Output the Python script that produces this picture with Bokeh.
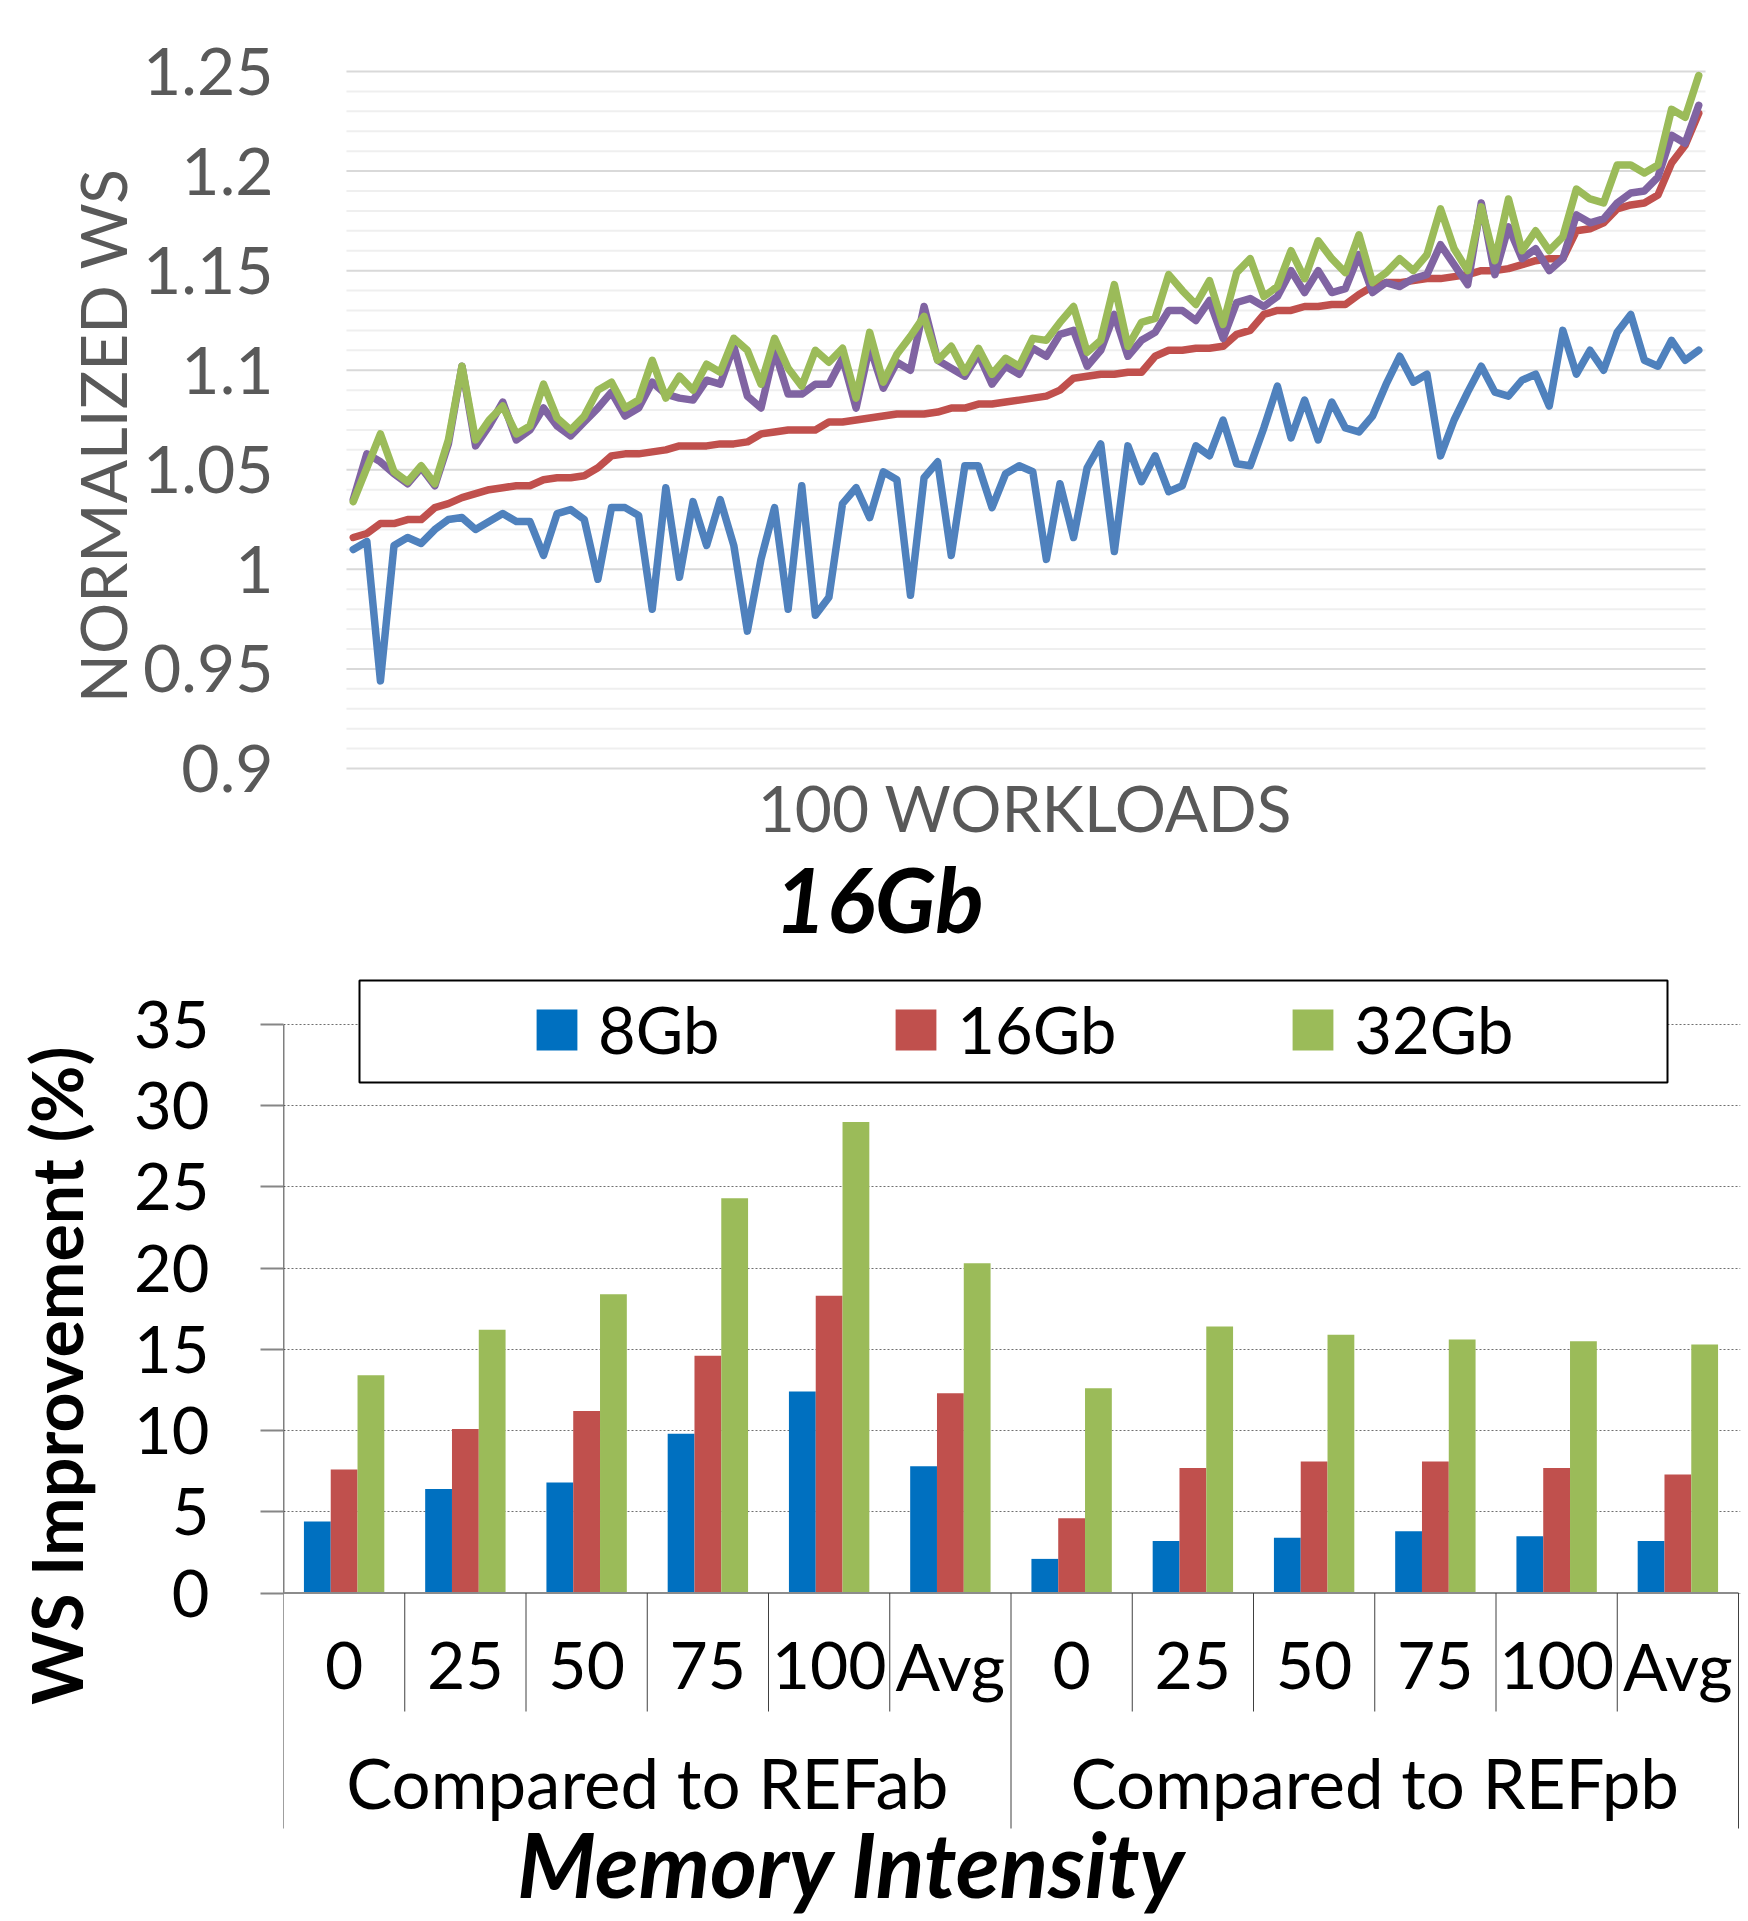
import math
from bokeh.plotting import figure
from bokeh.layouts import column, row
from bokeh.models import (FixedTicker, PrintfTickFormatter, Legend, LegendItem,
                          ColumnDataSource, Range1d)
from bokeh.transform import dodge
from bokeh.core.properties import value
from bokeh.embed import file_html
from bokeh.resources import INLINE

FONT = "Lato"

# ---------------- data: top chart (normalized WS, 100 workloads) ----------------
workload_idx = list(range(100))
ws_blue = [1.010, 1.014, 0.944, 1.012, 1.016, 1.013, 1.020, 1.025, 1.026, 1.020,
           1.024, 1.028, 1.024, 1.024, 1.007, 1.028, 1.030, 1.025, 0.995, 1.031,
           1.031, 1.027, 0.980, 1.041, 0.996, 1.034, 1.012, 1.035, 1.012, 0.969,
           1.005, 1.031, 0.980, 1.042, 0.977, 0.986, 1.033, 1.041, 1.026, 1.049,
           1.045, 0.987, 1.046, 1.054, 1.007, 1.052, 1.052, 1.031, 1.048, 1.052,
           1.049, 1.005, 1.043, 1.016, 1.051, 1.063, 1.009, 1.062, 1.044, 1.057,
           1.039, 1.042, 1.062, 1.057, 1.075, 1.053, 1.052, 1.071, 1.092, 1.066,
           1.085, 1.065, 1.084, 1.071, 1.069, 1.077, 1.093, 1.107, 1.094, 1.098,
           1.057, 1.075, 1.089, 1.102, 1.089, 1.087, 1.095, 1.098, 1.082, 1.120,
           1.098, 1.110, 1.100, 1.119, 1.128, 1.105, 1.102, 1.115, 1.105, 1.110]
ws_red = [1.016, 1.018, 1.023, 1.023, 1.025, 1.025, 1.031, 1.033, 1.036, 1.038,
          1.040, 1.041, 1.042, 1.042, 1.045, 1.046, 1.046, 1.047, 1.051, 1.057,
          1.058, 1.058, 1.059, 1.060, 1.062, 1.062, 1.062, 1.063, 1.063, 1.064,
          1.068, 1.069, 1.070, 1.070, 1.070, 1.074, 1.074, 1.075, 1.076, 1.077,
          1.078, 1.078, 1.078, 1.079, 1.081, 1.081, 1.083, 1.083, 1.084, 1.085,
          1.086, 1.087, 1.090, 1.096, 1.097, 1.098, 1.098, 1.099, 1.099, 1.107,
          1.110, 1.110, 1.111, 1.111, 1.112, 1.118, 1.120, 1.128, 1.130, 1.130,
          1.132, 1.132, 1.133, 1.133, 1.138, 1.142, 1.144, 1.144, 1.145, 1.146,
          1.146, 1.147, 1.148, 1.150, 1.150, 1.151, 1.153, 1.155, 1.156, 1.156,
          1.170, 1.171, 1.174, 1.181, 1.183, 1.184, 1.188, 1.204, 1.213, 1.229]
ws_purple = [1.035, 1.058, 1.054, 1.048, 1.043, 1.051, 1.042, 1.063, 1.102, 1.062,
             1.072, 1.084, 1.065, 1.070, 1.081, 1.072, 1.067, 1.074, 1.081, 1.089,
             1.077, 1.081, 1.094, 1.088, 1.086, 1.085, 1.095, 1.093, 1.112, 1.087,
             1.081, 1.110, 1.088, 1.088, 1.093, 1.093, 1.106, 1.081, 1.112, 1.091,
             1.104, 1.100, 1.132, 1.105, 1.101, 1.097, 1.108, 1.093, 1.102, 1.098,
             1.111, 1.107, 1.118, 1.120, 1.102, 1.110, 1.128, 1.107, 1.115, 1.119,
             1.130, 1.130, 1.125, 1.135, 1.116, 1.134, 1.136, 1.132, 1.137, 1.150,
             1.139, 1.150, 1.139, 1.141, 1.158, 1.139, 1.144, 1.142, 1.146, 1.148,
             1.163, 1.153, 1.143, 1.184, 1.148, 1.172, 1.156, 1.161, 1.150, 1.156,
             1.178, 1.174, 1.176, 1.184, 1.189, 1.190, 1.197, 1.218, 1.214, 1.233]
ws_green = [1.034, 1.051, 1.068, 1.049, 1.044, 1.052, 1.043, 1.065, 1.102, 1.065,
            1.075, 1.082, 1.068, 1.072, 1.093, 1.076, 1.070, 1.077, 1.090, 1.094,
            1.081, 1.085, 1.105, 1.086, 1.097, 1.090, 1.103, 1.099, 1.116, 1.110,
            1.093, 1.116, 1.101, 1.092, 1.110, 1.104, 1.111, 1.086, 1.119, 1.094,
            1.108, 1.117, 1.127, 1.105, 1.112, 1.099, 1.111, 1.098, 1.106, 1.102,
            1.116, 1.115, 1.124, 1.132, 1.109, 1.115, 1.143, 1.112, 1.124, 1.126,
            1.148, 1.140, 1.133, 1.145, 1.123, 1.149, 1.156, 1.137, 1.142, 1.160,
            1.146, 1.165, 1.156, 1.149, 1.168, 1.144, 1.149, 1.156, 1.150, 1.158,
            1.181, 1.161, 1.150, 1.182, 1.155, 1.186, 1.160, 1.170, 1.160, 1.167,
            1.191, 1.186, 1.184, 1.203, 1.203, 1.199, 1.203, 1.231, 1.227, 1.248]
top_ticks = [0.9, 0.95, 1.0, 1.05, 1.1, 1.15, 1.2, 1.25]
top_minor_step = 0.01

# ---------------- data: bottom chart (WS improvement %) ----------------
groups = ["Compared to REFab", "Compared to REFpb"]
intensity = ["0", "25", "50", "75", "100", "Avg"]
imp_8gb = [4.4, 6.4, 6.8, 9.8, 12.4, 7.8, 2.1, 3.2, 3.4, 3.8, 3.5, 3.2]
imp_16gb = [7.6, 10.1, 11.2, 14.6, 18.3, 12.3, 4.6, 7.7, 8.1, 8.1, 7.7, 7.3]
imp_32gb = [13.4, 16.2, 18.4, 24.3, 29.0, 20.3, 12.6, 16.4, 15.9, 15.6, 15.5, 15.3]
bar_ticks = [0, 5, 10, 15, 20, 25, 30, 35]
series_names = ["8Gb", "16Gb", "32Gb"]

# ---------------- layout constants (pixels) ----------------
FRAME_L = 283              # page x of both plot frames' left edge
BORDER_R = 6
TOTAL_W = 1746
FRAME_W = TOTAL_W - FRAME_L - BORDER_R

STRIP_T = 140              # left strip holding the rotated title (top)
STRIP_B = 130              # left strip holding the rotated title (bottom)

# =============================== TOP CHART ===============================
HT = 968
T_TOP = 60
Y125_PX = 71.0             # page y of 1.25
PX_PER_UNIT_T = 697.0 / 0.35
PX_PER_IDX = 13.6
X_FIRST_EDGE = 345.0       # page x of the plot-area left edge (index -0.5)

def ty(py):
    return 1.25 - (py - Y125_PX) / PX_PER_UNIT_T

def tx(px):
    return -0.5 + (px - X_FIRST_EDGE) / PX_PER_IDX

t_xr = Range1d(tx(FRAME_L), tx(FRAME_L + FRAME_W))
t_yr = Range1d(ty(HT), ty(T_TOP))

top = figure(width=TOTAL_W - STRIP_T, height=HT, output_backend="svg", toolbar_location=None,
             x_range=t_xr, y_range=t_yr, x_axis_location=None,
             min_border_left=FRAME_L - STRIP_T, min_border_right=BORDER_R,
             min_border_top=T_TOP, min_border_bottom=0)
top.outline_line_color = None
top.grid.visible = False

minor = []
v = top_ticks[0]
while v < top_ticks[-1] + 1e-9:
    r = round(v, 2)
    if round(r * 100) % 5 != 0:
        minor.append(r)
    v += top_minor_step

yax = top.yaxis[0]
yax.ticker = FixedTicker(ticks=top_ticks)
yax.formatter = PrintfTickFormatter(format="%g")
yax.axis_line_color = None
yax.major_tick_line_color = None
yax.major_tick_out = 0
yax.major_tick_in = 0
yax.minor_tick_line_color = None
yax.minor_tick_out = 0
yax.major_label_text_font = FONT
yax.major_label_text_font_size = "66px"
yax.major_label_text_color = "#595959"
yax.major_label_standoff = 11

x_lo, x_hi = workload_idx[0] - 0.5, workload_idx[-1] + 0.5
top.segment(x0=[x_lo] * len(minor), y0=minor, x1=[x_hi] * len(minor), y1=minor,
            line_color="#efefef", line_width=2)
top.segment(x0=[x_lo] * len(top_ticks), y0=top_ticks, x1=[x_hi] * len(top_ticks), y1=top_ticks,
            line_color="#d9d9d9", line_width=2)

for ys, col in [(ws_blue, "#4f81bd"), (ws_red, "#c0504d"),
                (ws_purple, "#8064a2"), (ws_green, "#9bbb59")]:
    top.line(workload_idx, ys, line_color=col, line_width=7.5,
             line_join="round", line_cap="round")

top.text(x=[tx(1024)], y=[ty(807)], text=["100 WORKLOADS"], text_align="center",
         text_baseline="middle", text_font=value(FONT), text_font_size=value("64px"),
         text_color="#595959")
top.text(x=[tx(878)], y=[ty(897)], text=["16Gb"], text_align="center",
         text_baseline="middle", text_font=value(FONT), text_font_size=value("90px"),
         text_font_style="bold italic", text_color="black")

strip_t = figure(width=STRIP_T, height=HT, output_backend="svg", toolbar_location=None,
                 x_range=Range1d(0, STRIP_T), y_range=t_yr,
                 x_axis_location=None, y_axis_location=None,
                 min_border_left=0, min_border_right=0, min_border_top=T_TOP, min_border_bottom=0)
strip_t.outline_line_color = None
strip_t.grid.visible = False
strip_t.text(x=[101.5], y=[ty(435)], text=["NORMALIZED WS"], angle=math.pi / 2,
             text_align="center", text_baseline="middle", text_font=value(FONT),
             text_font_size=value("64px"), text_color="#595959")

# =============================== BOTTOM CHART ===============================
HB = 950
PX_X = 121.25          # px per category
PX_Y = 16.243          # px per percent
Y0_PX = 1592.5         # page y of 0%

def byy(py):
    return (Y0_PX - py) / PX_Y

def bx(px):
    return (px - FRAME_L) / PX_X

b_yr = Range1d(byy(HT + HB), byy(HT))
bot = figure(width=TOTAL_W - STRIP_B, height=HB, output_backend="svg", toolbar_location=None,
             x_range=Range1d(0, FRAME_W / PX_X), y_range=b_yr,
             x_axis_location=None,
             min_border_left=FRAME_L - STRIP_B, min_border_right=BORDER_R,
             min_border_top=0, min_border_bottom=0)
bot.outline_line_color = None
bot.xgrid.visible = False

by = bot.yaxis[0]
by.ticker = FixedTicker(ticks=bar_ticks)
by.axis_line_color = None
by.major_tick_out = 23
by.major_tick_in = 0
by.major_tick_line_color = "#868686"
by.major_tick_line_width = 2
by.minor_tick_line_color = None
by.minor_tick_out = 0
by.major_label_standoff = 51
by.major_label_text_font = FONT
by.major_label_text_font_size = "65px"
by.major_label_text_color = "black"
bot.ygrid.grid_line_color = "#6f6f6f"
bot.ygrid.grid_line_dash = "2 2"
bot.ygrid.grid_line_width = 1

n_cat = len(imp_8gb)
centers = [i + 0.5 for i in range(n_cat)]
bw = 0.221
src = ColumnDataSource(dict(x=centers, b8=imp_8gb, b16=imp_16gb, b32=imp_32gb))
r8 = bot.vbar(x=dodge("x", -bw, range=bot.x_range), top="b8", bottom=0, width=bw,
              source=src, fill_color="#0070c0", line_color=None)
r16 = bot.vbar(x=dodge("x", 0, range=bot.x_range), top="b16", bottom=0, width=bw,
               source=src, fill_color="#c0504d", line_color=None)
r32 = bot.vbar(x=dodge("x", bw, range=bot.x_range), top="b32", bottom=0, width=bw,
               source=src, fill_color="#9bbb59", line_color=None)

# axis lines
bot.segment(x0=[0], y0=[0], x1=[0], y1=[bar_ticks[-1]], line_color="black", line_width=1.5)
bot.segment(x0=[0], y0=[0], x1=[n_cat], y1=[0], line_color="#8c8c8c", line_width=2)

# category separators
small_x = [i for i in range(1, n_cat) if i % len(intensity) != 0]
big_x = [i for i in range(0, n_cat + 1) if i % len(intensity) == 0]
bot.segment(x0=small_x, y0=[0] * len(small_x), x1=small_x, y1=[byy(1711)] * len(small_x),
            line_color="#404040", line_width=1)
bot.segment(x0=big_x, y0=[0] * len(big_x), x1=big_x, y1=[byy(1828)] * len(big_x),
            line_color="#404040", line_width=1)

# category labels
cat_labels = intensity * len(groups)
bot.text(x=centers, y=[byy(1665)] * n_cat, text=cat_labels, text_align="center",
         text_baseline="middle", text_font=value(FONT), text_font_size=value("66px"),
         text_color="black")
group_centers = [len(intensity) * (g + 0.5) for g in range(len(groups))]
bot.text(x=group_centers, y=[byy(1782)] * len(groups), text=groups, text_align="center",
         text_baseline="middle", text_font=value(FONT), text_font_size=value("69px"),
         text_color="black")
bot.text(x=[bx(851)], y=[byy(1862)], text=["Memory Intensity"], text_align="center",
         text_baseline="middle", text_font=value(FONT), text_font_size=value("90px"),
         text_font_style="bold italic", text_color="black")

# legend frame box
bot.quad(left=[bx(359)], right=[bx(1667)], top=[byy(980)], bottom=[byy(1082)],
         fill_color="white", line_color="black", line_width=2)

legend = Legend(items=[LegendItem(label=series_names[0], renderers=[r8]),
                       LegendItem(label=series_names[1], renderers=[r16]),
                       LegendItem(label=series_names[2], renderers=[r32])],
                orientation="horizontal", location=(248, 850),
                glyph_width=51, glyph_height=51, label_standoff=16, spacing=171,
                padding=0, margin=0, border_line_color=None, background_fill_alpha=0,
                label_text_font=FONT, label_text_font_size="65px", label_text_color="black")
bot.add_layout(legend)

strip_b = figure(width=STRIP_B, height=HB, output_backend="svg", toolbar_location=None,
                 x_range=Range1d(0, STRIP_B), y_range=b_yr,
                 x_axis_location=None, y_axis_location=None,
                 min_border_left=0, min_border_right=0, min_border_top=0, min_border_bottom=0)
strip_b.outline_line_color = None
strip_b.grid.visible = False
strip_b.text(x=[55], y=[byy(1375)], text=["WS Improvement (%)"], angle=math.pi / 2,
             text_align="center", text_baseline="middle", text_font=value(FONT),
             text_font_size=value("70px"), text_font_style="bold", text_color="black")

page = column(row(strip_t, top, spacing=0), row(strip_b, bot, spacing=0), spacing=0)
open("out.html", "w").write(file_html(page, INLINE))
